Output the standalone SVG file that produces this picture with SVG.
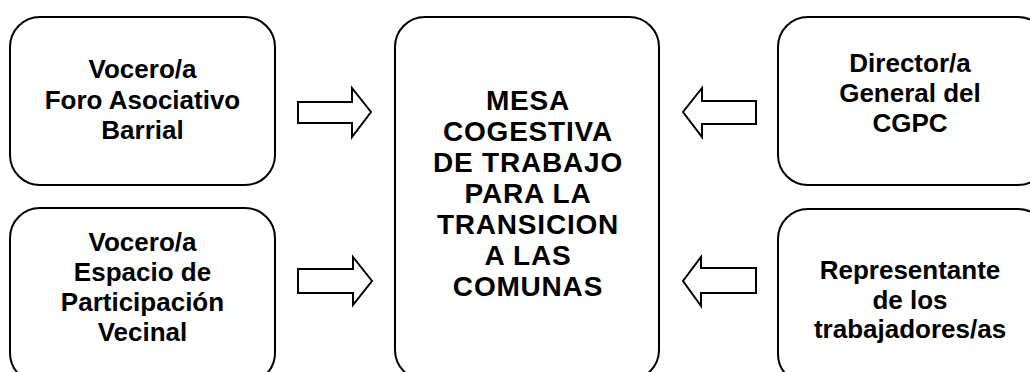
<svg xmlns="http://www.w3.org/2000/svg" width="1030" height="372" viewBox="0 0 1030 372">
<style>
.box{fill:#fff;stroke:#000;stroke-width:2}
.arr{fill:#fff;stroke:#000;stroke-width:2;stroke-linejoin:miter}
text{font-family:"Liberation Sans",Arial,sans-serif;font-weight:bold;font-size:26px;text-anchor:middle;fill:#000}
.c{font-size:28px;letter-spacing:0.8px}
</style>
<rect width="1030" height="372" fill="#fff"/>
<g id="foro">
<rect class="box" x="10" y="17" width="265" height="168" rx="30"/>
<text x="142.5" y="78">Vocero/a</text>
<text x="142.5" y="108.5">Foro Asociativo</text>
<text x="142.5" y="139">Barrial</text>
</g>
<g id="espacio">
<rect class="box" x="10" y="208" width="265" height="175" rx="30"/>
<text x="142.5" y="251">Vocero/a</text>
<text x="142.5" y="281">Espacio de</text>
<text x="142.5" y="311">Participación</text>
<text x="142.5" y="341">Vecinal</text>
</g>
<g id="mesa">
<rect class="box" x="395" y="17" width="264" height="363" rx="30"/>
<text class="c" x="528" y="110">MESA</text>
<text class="c" x="528" y="141">COGESTIVA</text>
<text class="c" x="528" y="172">DE TRABAJO</text>
<text class="c" x="528" y="203">PARA LA</text>
<text class="c" x="528" y="234">TRANSICION</text>
<text class="c" x="528" y="265">A LAS</text>
<text class="c" x="528" y="296">COMUNAS</text>
</g>
<g id="director">
<rect class="box" x="778" y="17" width="270" height="168" rx="30"/>
<text x="910" y="72">Director/a</text>
<text x="910" y="102">General del</text>
<text x="910" y="132">CGPC</text>
</g>
<g id="representante">
<rect class="box" x="778" y="209" width="270" height="175" rx="30"/>
<text x="910" y="279">Representante</text>
<text x="910" y="308.5">de los</text>
<text x="910" y="338">trabajadores/as</text>
</g>
<g id="connectors">
<polygon class="arr" points="298,102 352,102 352,88 371,112 352,137 352,123 298,123"/>
<polygon class="arr" points="298,269 353,269 353,257 372,281 353,305 353,293 298,293"/>
<polygon class="arr" points="756,101 702,101 702,88 683,112 702,137 702,124 756,124"/>
<polygon class="arr" points="756,268 701,268 701,257 683,281 701,306 701,293 756,293"/>
</g>
</svg>
